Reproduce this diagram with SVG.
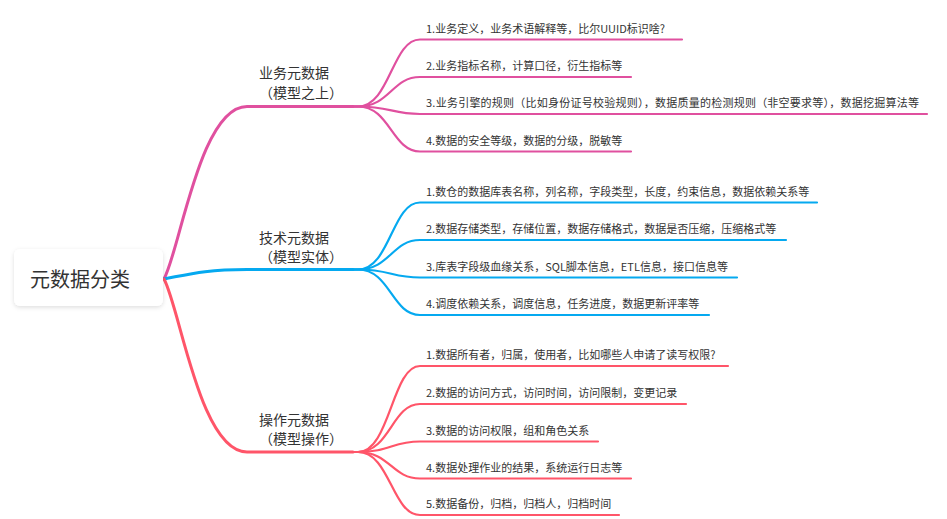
<svg xmlns="http://www.w3.org/2000/svg" width="947" height="519" viewBox="0 0 947 519">
<defs>
<filter id="sh" x="-20%" y="-30%" width="140%" height="170%">
<feDropShadow dx="0" dy="1.5" stdDeviation="2" flood-color="#000" flood-opacity="0.13"/>
</filter>
<style>
text{font-family:"Noto Sans CJK SC","Noto Sans",sans-serif;fill:#333}
.root{font-size:20px;text-anchor:middle}
.br{font-size:14px}
.lf{font-size:11px}
path{fill:none;stroke-linecap:round}
.m{stroke-width:3}
.l{stroke-width:2.2}
.p{stroke:#E0509F}
.b{stroke:#05A9F0}
.r{stroke:#FF5569}
</style>
</defs>
<rect width="947" height="519" fill="#fff"/>
<g id="connectors">
<path class="m p" d="M164,279 C180,250 200,106.5 247,106.5 L353,106.5"/>
<path class="m b" d="M164,279 C190,274 205,269.5 247,269.5 L353,269.5"/>
<path class="m r" d="M164,279 C180,308 200,452 247,452 L353,452"/>
<path class="l p" d="M353,106.5 L358,106.5 C390,106.5 392,39.5 420,39.5 L682,39.5"/>
<path class="l p" d="M353,106.5 L358,106.5 C390,106.5 392,77 420,77 L631,77"/>
<path class="l p" d="M353,106.5 L358,106.5 C390,106.5 392,114 420,114 L927,114"/>
<path class="l p" d="M353,106.5 L358,106.5 C390,106.5 392,151.5 420,151.5 L631,151.5"/>
<path class="l b" d="M353,269.5 L358,269.5 C390,269.5 392,202.5 420,202.5 L817,202.5"/>
<path class="l b" d="M353,269.5 L358,269.5 C390,269.5 392,240 420,240 L786,240"/>
<path class="l b" d="M353,269.5 L358,269.5 C390,269.5 392,277.5 420,277.5 L737,277.5"/>
<path class="l b" d="M353,269.5 L358,269.5 C390,269.5 392,315 420,315 L709,315"/>
<path class="l r" d="M353,452 L358,452 C390,452 392,366 420,366 L728,366"/>
<path class="l r" d="M353,452 L358,452 C390,452 392,404 420,404 L686,404"/>
<path class="l r" d="M353,452 L358,452 C390,452 392,441.5 420,441.5 L598,441.5"/>
<path class="l r" d="M353,452 L358,452 C390,452 392,478.5 420,478.5 L631,478.5"/>
<path class="l r" d="M353,452 L358,452 C390,452 392,515 420,515 L619,515"/>
</g>
<g id="root">
<rect x="14" y="249" width="149" height="57" rx="6" fill="#fff" filter="url(#sh)"/>
<text class="root" x="80" y="287">元数据分类</text>
</g>
<g id="branch-business">
<text class="br" x="259" y="78">业务元数据</text>
<text class="br" x="259" y="98">（模型之上）</text>
</g>
<g id="branch-tech">
<text class="br" x="259" y="243">技术元数据</text>
<text class="br" x="259" y="262">（模型实体）</text>
</g>
<g id="branch-ops">
<text class="br" x="259" y="425">操作元数据</text>
<text class="br" x="259" y="444">（模型操作）</text>
</g>
<g id="leaf-b1"><text class="lf" x="426" y="32.5">1.业务定义，业务术语解释等，比尔UUID标识啥?</text></g>
<g id="leaf-b2"><text class="lf" x="426" y="70">2.业务指标名称，计算口径，衍生指标等</text></g>
<g id="leaf-b3"><text class="lf" x="426" y="107" textLength="493" lengthAdjust="spacing">3.业务引擎的规则（比如身份证号校验规则），数据质量的检测规则（非空要求等），数据挖掘算法等</text></g>
<g id="leaf-b4"><text class="lf" x="426" y="144.5">4.数据的安全等级，数据的分级，脱敏等</text></g>
<g id="leaf-t1"><text class="lf" x="426" y="195.5">1.数仓的数据库表名称，列名称，字段类型，长度，约束信息，数据依赖关系等</text></g>
<g id="leaf-t2"><text class="lf" x="426" y="233">2.数据存储类型，存储位置，数据存储格式，数据是否压缩，压缩格式等</text></g>
<g id="leaf-t3"><text class="lf" x="426" y="270.5">3.库表字段级血缘关系，SQL脚本信息，ETL信息，接口信息等</text></g>
<g id="leaf-t4"><text class="lf" x="426" y="308">4.调度依赖关系，调度信息，任务进度，数据更新评率等</text></g>
<g id="leaf-o1"><text class="lf" x="426" y="359">1.数据所有者，归属，使用者，比如哪些人申请了读写权限?</text></g>
<g id="leaf-o2"><text class="lf" x="426" y="397">2.数据的访问方式，访问时间，访问限制，变更记录</text></g>
<g id="leaf-o3"><text class="lf" x="426" y="434.5">3.数据的访问权限，组和角色关系</text></g>
<g id="leaf-o4"><text class="lf" x="426" y="471.5">4.数据处理作业的结果，系统运行日志等</text></g>
<g id="leaf-o5"><text class="lf" x="426" y="508">5.数据备份，归档，归档人，归档时间</text></g>
</svg>
